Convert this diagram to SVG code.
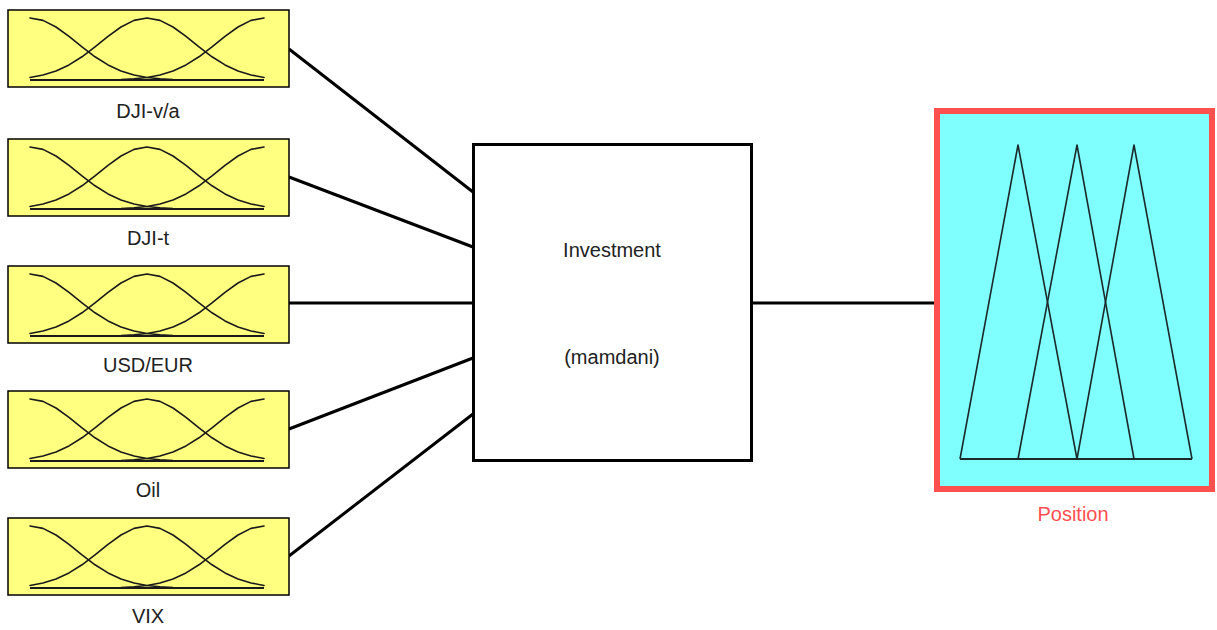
<svg xmlns="http://www.w3.org/2000/svg" xmlns:xlink="http://www.w3.org/1999/xlink" width="1217" height="630" viewBox="0 0 1217 630">
<style>
.inbox{fill:#FFFF80;stroke:#000;stroke-width:1.5}
.mf{fill:none;stroke:#1a1a1a;stroke-width:1.6;stroke-linejoin:round;stroke-linecap:round}
.lbl{font-family:"Liberation Sans",Arial,sans-serif;font-size:20px;fill:#222;text-anchor:middle}
.conn{stroke:#000;stroke-width:3;fill:none}
.tri{fill:none;stroke:#1a2a2a;stroke-width:1.6;stroke-linejoin:round}
</style>
<defs>
<g id="gauss">
<rect class="inbox" x="8" y="0" width="281" height="77"/>
<polyline class="mf" points="30,8 43,10.39 56,17.02 69,26.47 82,36.94 95,46.79 108,54.93 121,60.97 134,64.99 147,67.43 160,68.78 173,69.47 186,69.78 199,69.92 212,70"/>
<polyline class="mf" points="30,67.43 43,64.99 56,60.97 69,54.93 82,46.79 95,36.94 108,26.47 121,17.02 134,10.39 147,8 160,10.39 173,17.02 186,26.47 199,36.94 212,46.79 225,54.93 238,60.97 251,64.99 264,67.43"/>
<polyline class="mf" points="82,70 95,69.92 108,69.78 121,69.47 134,68.78 147,67.43 160,64.99 173,60.97 186,54.93 199,46.79 212,36.94 225,26.47 238,17.02 251,10.39 264,8"/>
<line x1="30" y1="70" x2="264" y2="70" stroke="#1a1a1a" stroke-width="2.2"/>
</g>
</defs>
<g id="connectors">
<line class="conn" x1="289" y1="49" x2="473" y2="192"/>
<line class="conn" x1="289" y1="177" x2="473" y2="247"/>
<line class="conn" x1="289" y1="303" x2="473" y2="303"/>
<line class="conn" x1="289" y1="429" x2="473" y2="358"/>
<line class="conn" x1="289" y1="556" x2="473" y2="414"/>
<line class="conn" x1="752" y1="303" x2="935" y2="303"/>
</g>
<g id="in1" transform="translate(0,10)"><use xlink:href="#gauss"/><text class="lbl" x="148" y="108">DJI-v/a</text></g>
<g id="in2" transform="translate(0,139)"><use xlink:href="#gauss"/><text class="lbl" x="148" y="106">DJI-t</text></g>
<g id="in3" transform="translate(0,266)"><use xlink:href="#gauss"/><text class="lbl" x="148" y="106">USD/EUR</text></g>
<g id="in4" transform="translate(0,391)"><use xlink:href="#gauss"/><text class="lbl" x="148" y="106">Oil</text></g>
<g id="in5" transform="translate(0,518)"><use xlink:href="#gauss"/><text class="lbl" x="148" y="105">VIX</text></g>
<g id="system">
<rect x="473.5" y="144.5" width="278" height="316" fill="#fff" stroke="#000" stroke-width="3"/>
<text class="lbl" x="612" y="257">Investment</text>
<text class="lbl" x="612" y="364">(mamdani)</text>
</g>
<g id="output">
<rect x="937" y="111" width="275" height="378" fill="#80FFFF" stroke="#FF5050" stroke-width="6"/>
<polyline class="tri" points="960,459 1018,145 1077,459"/>
<polyline class="tri" points="1018,459 1077,145 1134,459"/>
<polyline class="tri" points="1077,459 1134,145 1192,459"/>
<line x1="960" y1="459" x2="1192" y2="459" stroke="#1a2a2a" stroke-width="2"/>
<text class="lbl" x="1073" y="521" style="fill:#FF5050">Position</text>
</g>
</svg>
